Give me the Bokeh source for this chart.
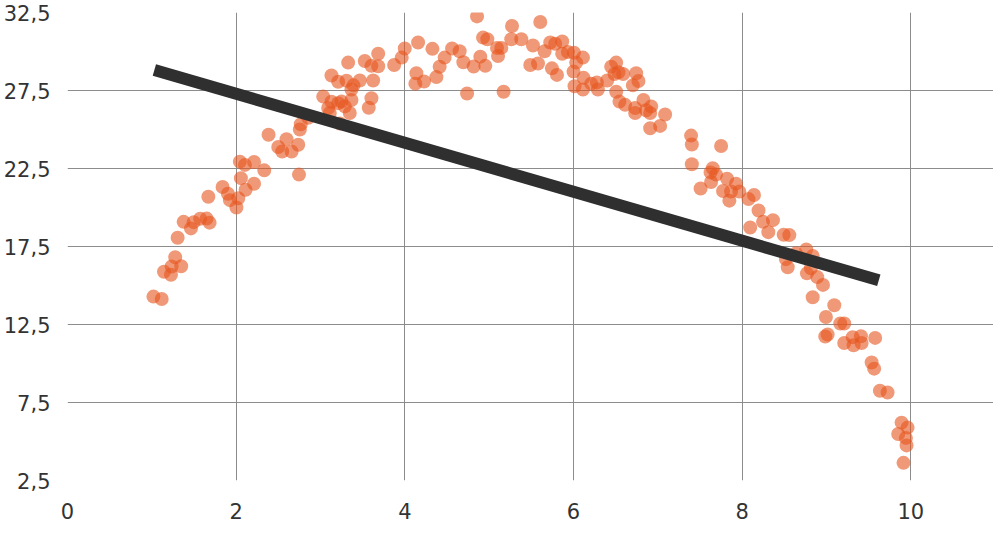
from bokeh.plotting import figure
from bokeh.models import Range1d, FixedTicker
from bokeh.embed import file_html
from bokeh.resources import INLINE

# ---- data ----
x_vals = [1.019, 1.117, 1.144, 1.227, 1.235, 1.277, 1.348, 1.306, 1.377, 1.464,
          1.496, 1.573, 1.650, 1.685, 1.670, 1.839, 1.902, 1.926, 2.025, 2.003,
          2.056, 2.112, 2.212, 2.044, 2.104, 2.212, 2.333, 2.384, 2.499, 2.546,
          2.597, 2.657, 2.736, 2.745, 2.755, 2.766, 2.854, 3.032, 3.091, 3.110,
          3.130, 3.210, 3.249, 3.288, 3.347, 3.367, 3.231, 3.130, 3.210, 3.308,
          3.367, 3.391, 3.466, 3.328, 3.525, 3.604, 3.684, 3.684, 3.624, 3.604,
          3.572, 3.873, 3.963, 3.999, 4.157, 4.137, 4.125, 4.228, 4.327, 4.374,
          4.413, 4.472, 4.560, 4.650, 4.694, 4.738, 4.816, 4.895, 4.954, 4.856,
          4.927, 4.978, 5.093, 5.144, 5.105, 5.171, 5.271, 5.262, 5.381, 5.519,
          5.487, 5.579, 5.606, 5.657, 5.724, 5.783, 5.866, 5.744, 5.804, 5.866,
          5.934, 6.005, 6.000, 6.032, 6.112, 6.012, 6.119, 6.112, 6.210, 6.277,
          6.289, 6.399, 6.447, 6.506, 6.533, 6.589, 6.506, 6.545, 6.612, 6.704,
          6.743, 6.770, 6.731, 6.731, 6.829, 6.921, 6.909, 6.909, 7.027, 7.086,
          6.861, 6.486,
          7.394, 7.403, 7.750, 7.403, 7.651, 7.625, 7.690, 7.507, 7.631, 7.821,
          7.927, 7.773, 7.868, 7.966, 7.848, 8.075, 8.140, 8.194, 8.247, 8.365,
          8.095, 8.310, 8.492, 8.559, 8.638, 8.760, 8.836, 8.540, 8.519, 8.768,
          8.815, 8.890, 8.958, 8.836, 9.092, 8.993, 9.163, 9.210, 9.013, 8.985,
          9.210, 9.310, 9.321, 9.408, 9.416, 9.577, 9.535, 9.565, 9.633, 9.724,
          9.890, 9.961, 9.850, 9.941, 9.949, 9.913]
y_vals = [14.29, 14.13, 15.88, 15.69, 16.22, 16.81, 16.23, 18.06, 19.08, 18.66,
          19.06, 19.28, 19.29, 19.03, 20.69, 21.31, 20.88, 20.47, 20.59, 20.00,
          21.88, 21.14, 21.52, 22.94, 22.73, 22.92, 22.38, 24.66, 23.88, 23.59,
          24.38, 23.59, 24.02, 22.11, 25.00, 25.34, 25.75, 27.11, 26.38, 26.06,
          26.78, 26.69, 26.79, 26.48, 26.06, 26.89, 25.38, 28.46, 28.06, 28.13,
          27.56, 27.83, 28.14, 29.29, 29.39, 29.08, 29.86, 29.05, 28.14, 27.00,
          26.39, 29.13, 29.61, 30.19, 30.58, 28.61, 27.94, 28.08, 30.17, 28.36,
          29.02, 29.61, 30.19, 30.02, 29.31, 27.31, 29.04, 29.67, 29.08, 32.25,
          30.89, 30.79, 30.23, 30.23, 29.71, 27.42, 31.63, 30.79, 30.79, 30.38,
          29.13, 29.23, 31.89, 30.02, 30.58, 30.50, 30.64, 28.92, 28.50, 29.86,
          29.96, 29.92, 28.71, 29.29, 29.61, 27.77, 28.31, 27.56, 27.94, 28.02,
          27.56, 28.14, 29.02, 29.29, 28.67, 28.56, 27.42, 26.79, 26.58, 27.83,
          28.61, 28.11, 26.38, 26.06, 26.89, 26.48, 26.06, 25.08, 25.23, 25.96,
          26.23, 28.56,
          24.61, 24.04, 23.94, 22.77, 22.52, 22.25, 22.11, 21.22, 21.63, 21.84,
          21.53, 21.06, 21.03, 21.02, 20.44, 20.54, 20.80, 19.81, 19.08, 19.19,
          18.72, 18.42, 18.25, 18.23, 17.06, 17.31, 16.89, 16.17, 16.69, 15.78,
          16.11, 15.54, 15.04, 14.25, 13.73, 12.98, 12.56, 12.56, 11.86, 11.73,
          11.31, 11.69, 11.17, 11.75, 11.31, 11.64, 10.06, 9.67, 8.25, 8.14,
          6.21, 5.89, 5.48, 5.23, 4.75, 3.63]

trend_x = [1.03, 9.62]
trend_y = [28.81, 15.33]

x_ticks = [0, 2, 4, 6, 8, 10]
x_tick_labels = ["0", "2", "4", "6", "8", "10"]
y_ticks = [2.5, 7.5, 12.5, 17.5, 22.5, 27.5, 32.5]
y_tick_labels = ["2,5", "7,5", "12,5", "17,5", "22,5", "27,5", "32,5"]

# ---- figure ----
p = figure(width=993, height=524, output_backend="svg", toolbar_location=None,
           x_range=Range1d(0, 10.98), y_range=Range1d(2.5, 32.5),
           min_border_left=0, min_border_right=0, min_border_top=12, min_border_bottom=44)
p.outline_line_color = None
p.background_fill_color = "white"
p.border_fill_color = "white"

p.xgrid.ticker = FixedTicker(ticks=x_ticks)
p.ygrid.ticker = FixedTicker(ticks=y_ticks)
p.xgrid.grid_line_color = "#8c8c8c"
p.ygrid.grid_line_color = "#8c8c8c"
p.xgrid.grid_line_width = 1
p.ygrid.grid_line_width = 1

p.xaxis.ticker = FixedTicker(ticks=x_ticks)
p.yaxis.ticker = FixedTicker(ticks=y_ticks)
p.xaxis.major_label_overrides = {t: l for t, l in zip(x_ticks, x_tick_labels)}
p.yaxis.major_label_overrides = {t: l for t, l in zip(y_ticks, y_tick_labels)}

for ax in (p.xaxis, p.yaxis):
    ax.axis_line_color = None
    ax.major_tick_line_color = None
    ax.minor_tick_line_color = None
    ax.major_label_text_font = "DejaVu Sans"
    ax.major_label_text_font_size = "21px"
    ax.major_label_text_color = "#333333"
p.yaxis.major_label_standoff = 11
p.xaxis.major_label_standoff = 16

p.scatter(x_vals, y_vals, size=14, fill_color="#E6551E", fill_alpha=0.6, line_color=None)
p.line(trend_x, trend_y, line_width=12, line_color="#2f2f2f", line_cap="butt")

open("out.html", "w").write(file_html(p, INLINE))
